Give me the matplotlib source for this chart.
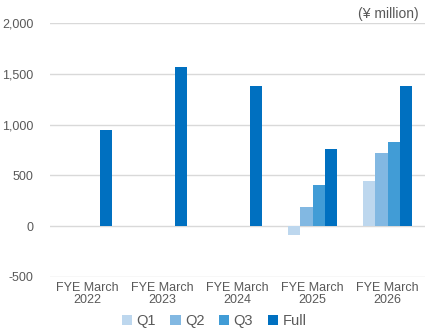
import matplotlib.pyplot as plt
import numpy as np

plt.rcParams['font.family'] = ['Liberation Sans', 'DejaVu Sans']

years = ["FYE March\n2022", "FYE March\n2023", "FYE March\n2024", "FYE March\n2025", "FYE March\n2026"]
series = ["Q1", "Q2", "Q3", "Full"]
q1 = [np.nan, np.nan, np.nan, -85, 445]
q2 = [np.nan, np.nan, np.nan, 190, 720]
q3 = [np.nan, np.nan, np.nan, 405, 825]
full = [945, 1570, 1385, 760, 1385]
colors = ["#BDD7EE", "#82B8E2", "#419CD6", "#0070C0"]

fig = plt.figure(figsize=(4.28, 3.3), dpi=100)
ax = fig.add_axes([0.117, 0.161, 0.876, 0.769])

x = np.arange(len(years))
w = 0.65 / 4
for i, (name, vals) in enumerate(zip(series, [q1, q2, q3, full])):
    ax.bar(x + (i - 1.5) * w, vals, width=w, color=colors[i], label=name, zorder=3)

ax.set_xlim(-0.5, len(years) - 0.5)
ax.set_ylim(-500, 2000)
ax.set_yticks(range(-500, 2001, 500))
ax.set_yticklabels([f"{v:,}" for v in range(-500, 2001, 500)])
ax.set_xticks(x)
ax.set_xticklabels(years, linespacing=1.0)
ax.grid(axis='y', color='#D9D9D9', linewidth=1, zorder=0)
for s in ax.spines.values():
    s.set_visible(False)
ax.tick_params(length=0, colors='#595959', labelsize=9)
ax.tick_params(axis='y', pad=12)
ax.tick_params(axis='x', pad=4)

fig.text(0.977, 0.978, "(¥ million)", ha='right', va='top', color='#595959', fontsize=10)
fig.legend(loc='lower center', bbox_to_anchor=(0.5, -0.035), ncol=4, frameon=False,
           fontsize=10.5, handlelength=0.7, handleheight=0.7, handletextpad=0.3,
           columnspacing=1.0, labelcolor='#595959')

fig.savefig("out.png", dpi=100)
